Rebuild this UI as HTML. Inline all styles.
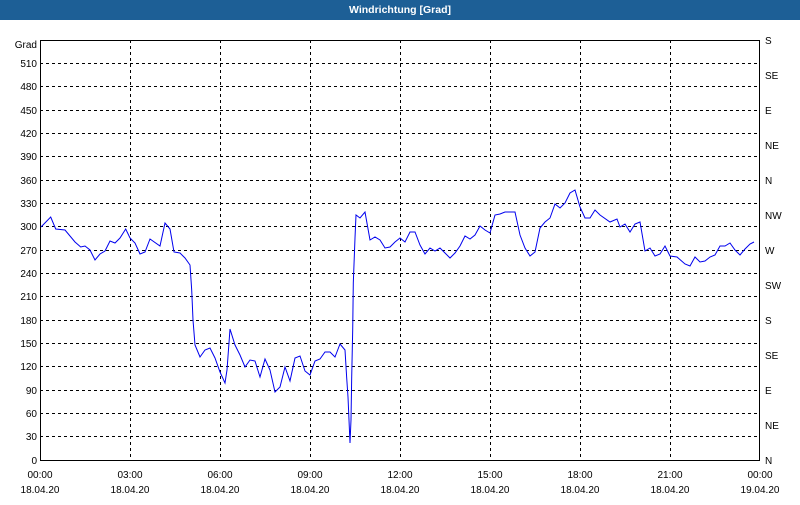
<!DOCTYPE html>
<html><head><meta charset="utf-8"><style>
body{margin:0;width:800px;height:500px;overflow:hidden;background:#fff;font-family:"Liberation Sans",sans-serif}
</style></head><body>
<svg width="800" height="500" xmlns="http://www.w3.org/2000/svg" font-family="Liberation Sans, sans-serif" font-size="10">
<rect x="0" y="0" width="800" height="500" fill="#fff"/>
<rect x="0" y="0" width="800" height="20" fill="#1d5f96"/>
<text x="400" y="13" fill="#fff" font-weight="bold" font-size="10.5" text-anchor="middle">Windrichtung [Grad]</text>
<g stroke="#000" stroke-width="1" stroke-dasharray="3,3" shape-rendering="crispEdges">
<line x1="130.5" y1="40" x2="130.5" y2="460"/><line x1="220.5" y1="40" x2="220.5" y2="460"/><line x1="310.5" y1="40" x2="310.5" y2="460"/><line x1="400.5" y1="40" x2="400.5" y2="460"/><line x1="490.5" y1="40" x2="490.5" y2="460"/><line x1="580.5" y1="40" x2="580.5" y2="460"/><line x1="670.5" y1="40" x2="670.5" y2="460"/>
<line x1="40" y1="63.5" x2="760" y2="63.5"/><line x1="40" y1="86.5" x2="760" y2="86.5"/><line x1="40" y1="110.5" x2="760" y2="110.5"/><line x1="40" y1="133.5" x2="760" y2="133.5"/><line x1="40" y1="156.5" x2="760" y2="156.5"/><line x1="40" y1="180.5" x2="760" y2="180.5"/><line x1="40" y1="203.5" x2="760" y2="203.5"/><line x1="40" y1="226.5" x2="760" y2="226.5"/><line x1="40" y1="250.5" x2="760" y2="250.5"/><line x1="40" y1="273.5" x2="760" y2="273.5"/><line x1="40" y1="296.5" x2="760" y2="296.5"/><line x1="40" y1="320.5" x2="760" y2="320.5"/><line x1="40" y1="343.5" x2="760" y2="343.5"/><line x1="40" y1="366.5" x2="760" y2="366.5"/><line x1="40" y1="390.5" x2="760" y2="390.5"/><line x1="40" y1="413.5" x2="760" y2="413.5"/><line x1="40" y1="436.5" x2="760" y2="436.5"/>
</g>
<g stroke="#000" stroke-width="1" fill="none" shape-rendering="crispEdges">
<line x1="40.5" y1="40" x2="40.5" y2="461"/><line x1="759.5" y1="40" x2="759.5" y2="461"/><line x1="40" y1="40.5" x2="760" y2="40.5"/><line x1="40" y1="460.5" x2="760" y2="460.5"/>
</g>
<polyline fill="none" stroke="#0000ee" stroke-width="1" points="41,227 50.7,217 55.7,229 65,230 75,242 80.7,247 85,246 90,250 95,260 100,254 105,251 110,241 115,243 120,238 125.7,229 130,238 135,243 140,254 145,252 150,239 160,246 165,223 170,229 174,252 180,253 185,258 190,265 191.7,290 193,320 195,345 200,357 205,350 210,348 215,358 220,372 225,383 227,370 230,329 235,345 240,355 245,367 250,360 255,361 260,377 265,359 270,370 275,392 280,387 285,367 290,381 295,358 300,356 305,371 310,375 315,361 320,359 325,352 330,352 335,357 340,344 345,350 346.7,378 348,397 350,443 351,420 351.7,377 352.7,330 353.3,283 355,238 356,215 360,218 365,212 370,240 375,237 380,240 385,248 390,247 395,242 400,238 405,242 410,232 415,232 420,245 425,254 430,248 435,251 440,248 445,253 450,258 455,253 460,246 465,236 470,239 475,235 480,226 485,230 490,233 495,215 500,214 505,212 515,212 520,235 525,248 530,256 535,252 540,228 545,222 550,218 555,204 560,208 565,203 570,193 575,190 580,207 585,218 590,218 595,210 600,215 610,222 617,219 620,227 625,224 630,232 635,224 640,222 645,251 650,248 655,256 660,254 665,246 670,256 677,257 685,264 690,266 695,257 700,262 705,261 710,257 715,255 720,246 725,246 730,243 735,250 740,255 745,249 750,244 754,242"/>
<g fill="#000" text-anchor="end">
<text x="37" y="48">Grad</text>
<text x="37" y="67">510</text><text x="37" y="90">480</text><text x="37" y="114">450</text><text x="37" y="137">420</text><text x="37" y="160">390</text><text x="37" y="184">360</text><text x="37" y="207">330</text><text x="37" y="230">300</text><text x="37" y="254">270</text><text x="37" y="277">240</text><text x="37" y="300">210</text><text x="37" y="324">180</text><text x="37" y="347">150</text><text x="37" y="370">120</text><text x="37" y="394">90</text><text x="37" y="417">60</text><text x="37" y="440">30</text><text x="37" y="464">0</text>
</g>
<g fill="#000" text-anchor="start">
<text x="765" y="44">S</text><text x="765" y="79">SE</text><text x="765" y="114">E</text><text x="765" y="149">NE</text><text x="765" y="184">N</text><text x="765" y="219">NW</text><text x="765" y="254">W</text><text x="765" y="289">SW</text><text x="765" y="324">S</text><text x="765" y="359">SE</text><text x="765" y="394">E</text><text x="765" y="429">NE</text><text x="765" y="464">N</text>
</g>
<g fill="#000" text-anchor="middle">
<text x="40" y="478">00:00</text><text x="130" y="478">03:00</text><text x="220" y="478">06:00</text><text x="310" y="478">09:00</text><text x="400" y="478">12:00</text><text x="490" y="478">15:00</text><text x="580" y="478">18:00</text><text x="670" y="478">21:00</text><text x="760" y="478">00:00</text>
<text x="40" y="493">18.04.20</text><text x="130" y="493">18.04.20</text><text x="220" y="493">18.04.20</text><text x="310" y="493">18.04.20</text><text x="400" y="493">18.04.20</text><text x="490" y="493">18.04.20</text><text x="580" y="493">18.04.20</text><text x="670" y="493">18.04.20</text><text x="760" y="493">19.04.20</text>
</g>
</svg>
</body></html>
